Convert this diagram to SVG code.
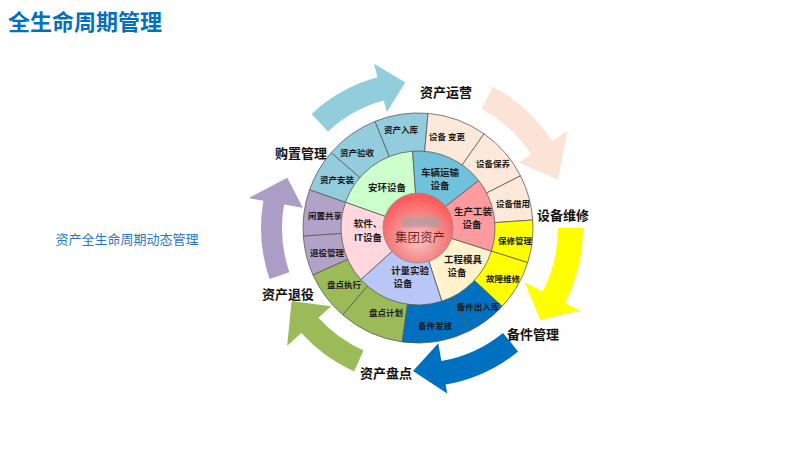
<svg xmlns="http://www.w3.org/2000/svg" width="800" height="450" viewBox="0 0 800 450">
<defs>
<radialGradient id="core" cx="50%" cy="65%" r="60%">
<stop offset="0" stop-color="#f9c9c9"/>
<stop offset="0.55" stop-color="#f58a8a"/>
<stop offset="1" stop-color="#ff5a5a"/>
</radialGradient>
<filter id="blur"><feGaussianBlur stdDeviation="1.5"/></filter>
</defs>
<style>
.sec{stroke:#5a5a5a;stroke-width:0.8}
.t8{font-family:"Noto Sans CJK SC","Liberation Sans",sans-serif;font-size:8.5px;font-weight:bold;fill:#1a1a1a;text-anchor:middle}
.t10{font-family:"Noto Sans CJK SC","Liberation Sans",sans-serif;font-size:9.5px;font-weight:bold;fill:#1a1a1a;text-anchor:middle}
.stage{font-family:"Noto Sans CJK SC","Liberation Sans",sans-serif;font-size:13px;font-weight:bold;fill:#111;text-anchor:middle}
.blue{fill:#93cddd}.peach{fill:#fde9d9}.yel{fill:#ffff00}.dblue{fill:#0070c0}.green{fill:#9bbb59}.purple{fill:#b3a2c7}
</style>
<rect width="800" height="450" fill="#ffffff"/>
<text x="8" y="30" font-family="Noto Sans CJK SC,Liberation Sans,sans-serif" font-size="22" font-weight="bold" fill="#0070c0">全生命周期管理</text>
<text x="127" y="244" font-family="Noto Sans CJK SC,Liberation Sans,sans-serif" font-size="13" fill="#1f78c8" text-anchor="middle">资产全生命周期动态管理</text>

<g id="connectors">
<path fill="#92cddc" d="M311.6,113.9 A156,156 0 0 1 377.6,77.3 L374.0,63.8 L405.3,82.6 L386.9,112.1 L383.8,100.5 A132,132 0 0 0 328.0,131.5 Z"/>
<path fill="#fbe4d5" d="M493.1,86.7 A160,160 0 0 1 552.2,140.9 L567.3,131.1 L557.9,179.8 L518.6,162.6 L531.2,154.5 A135,135 0 0 0 481.4,108.8 Z"/>
<path fill="#ffff00" d="M583,228 A165,165 0 0 1 565.0,302.9 L580.2,310.6 L540.2,320.1 L524.9,282.5 L542.7,291.6 A140,140 0 0 0 558,228 Z"/>
<path fill="#0070c0" d="M518.1,351.6 A159,159 0 0 1 445.6,384.6 L447.2,393.4 L413.0,370.9 L438.3,343.2 L441.4,361.0 A135,135 0 0 0 503.0,332.9 Z"/>
<path fill="#9bbb59" d="M354.1,371.4 A157,157 0 0 1 301.3,333.1 L287.2,345.8 L291.6,301.0 L331.1,306.3 L318.4,317.7 A134,134 0 0 0 363.5,350.4 Z"/>
<path fill="#ab9dc6" d="M269.6,279.1 A157,157 0 0 1 263.4,200.7 L248.6,198.1 L287.3,177.8 L302.8,207.7 L284.1,204.4 A136,136 0 0 0 289.4,272.3 Z"/>
</g>

<g id="stage-labels">
<g id="s-yunying"><text class="stage" x="446" y="97">资产运营</text></g>
<g id="s-weixiu"><text class="stage" x="563" y="220">设备维修</text></g>
<g id="s-beijian"><text class="stage" x="533" y="339">备件管理</text></g>
<g id="s-pandian"><text class="stage" x="386" y="378">资产盘点</text></g>
<g id="s-tuiyi"><text class="stage" x="288" y="299">资产退役</text></g>
<g id="s-gouzhi"><text class="stage" x="301" y="158">购置管理</text></g>
</g>

<g id="outer-ring">
<g id="o1"><path class="sec blue" d="M418,228 L374.9,121.4 A115,115 0 0 1 428.0,113.4 Z"/><text class="t8" x="401" y="133">资产入库</text></g>
<g id="o2"><path class="sec peach" d="M418,228 L428.0,113.4 A115,115 0 0 1 484.0,133.8 Z"/><text class="t8" x="447" y="140">设备 变更</text></g>
<g id="o3"><path class="sec peach" d="M418,228 L484.0,133.8 A115,115 0 0 1 520.5,175.8 Z"/><text class="t8" x="493" y="167">设备保养</text></g>
<g id="o4"><path class="sec peach" d="M418,228 L520.5,175.8 A115,115 0 0 1 532.7,220.0 Z"/><text class="t8" x="513" y="207">设备借用</text></g>
<g id="o5"><path class="sec yel" d="M418,228 L532.7,220.0 A115,115 0 0 1 527.7,262.6 Z"/><text class="t8" x="515" y="244">保修管理</text></g>
<g id="o6"><path class="sec yel" d="M418,228 L527.7,262.6 A115,115 0 0 1 502.1,306.4 Z"/><text class="t8" x="503" y="282">故障维修</text></g>
<g id="o8"><path class="sec dblue" d="M418,228 L470.2,330.5 A115,115 0 0 1 402.0,341.9 Z"/><text class="t8" x="435" y="329">备件发放</text></g>
<g id="o7"><path class="sec dblue" d="M418,228 L502.1,306.4 A115,115 0 0 1 470.2,330.5 Z"/><text class="t8" x="478" y="310">备件出入库</text></g>
<g id="o9"><path class="sec green" d="M418,228 L402.0,341.9 A115,115 0 0 1 342.6,314.8 Z"/><text class="t8" x="386" y="316">盘点计划</text></g>
<g id="o10"><path class="sec green" d="M418,228 L342.6,314.8 A115,115 0 0 1 312.9,274.8 Z"/><text class="t8" x="344" y="288">盘点执行</text></g>
<g id="o11"><path class="sec purple" d="M418,228 L312.9,274.8 A115,115 0 0 1 303.3,236.0 Z"/><text class="t8" x="327" y="256">退役管理</text></g>
<g id="o12"><path class="sec purple" d="M418,228 L303.3,236.0 A115,115 0 0 1 309.6,189.6 Z"/><text class="t8" x="325" y="219">闲置共享</text></g>
<g id="o13"><path class="sec blue" d="M418,228 L309.6,189.6 A115,115 0 0 1 331.2,152.6 Z"/><text class="t8" x="337" y="183">资产安装</text></g>
<g id="o14"><path class="sec blue" d="M418,228 L331.2,152.6 A115,115 0 0 1 374.9,121.4 Z"/><text class="t8" x="357" y="156">资产验收</text></g>
</g>

<g id="middle-ring">
<g id="m1"><path class="sec" fill="#ccffcc" d="M418,228 L345.4,202.3 A77,77 0 0 1 412.6,151.2 Z"/><text class="t10" x="387" y="191">安环设备</text></g>
<g id="m2"><path class="sec" fill="#70c1da" d="M418,228 L412.6,151.2 A77,77 0 0 1 478.7,180.6 Z"/><text class="t10" x="440" y="176">车辆运输</text><text class="t10" x="440" y="189">设备</text></g>
<g id="m3"><path class="sec" fill="#ff9b9e" d="M418,228 L478.7,180.6 A77,77 0 0 1 491.4,251.2 Z"/><text class="t10" x="473" y="215">生产工装</text><text class="t10" x="472" y="228">设备</text></g>
<g id="m4"><path class="sec" fill="#fff2cc" d="M418,228 L491.4,251.2 A77,77 0 0 1 441.8,301.2 Z"/><text class="t10" x="463" y="263">工程模具</text><text class="t10" x="457" y="276">设备</text></g>
<g id="m5"><path class="sec" fill="#b8c6f8" d="M418,228 L441.8,301.2 A77,77 0 0 1 360.8,279.5 Z"/><text class="t10" x="410" y="274">计量实验</text><text class="t10" x="403" y="287">设备</text></g>
<g id="m6"><path class="sec" fill="#ffd7dc" d="M418,228 L360.8,279.5 A77,77 0 0 1 345.4,202.3 Z"/><text class="t10" x="368" y="227">软件、</text><text class="t10" x="368" y="241">IT设备</text></g>
</g>

<g id="core-node">
<circle cx="418" cy="228" r="35" fill="url(#core)" stroke="#8a8a8a" stroke-width="0.8"/>
<rect x="402" y="217" width="38" height="10" fill="#b89a9e" opacity="0.8" filter="url(#blur)"/>
<text x="420" y="242" font-family="Noto Sans CJK SC,Liberation Sans,sans-serif" font-size="12.5" fill="#7a1f24" text-anchor="middle">集团资产</text>
</g>
</svg>
